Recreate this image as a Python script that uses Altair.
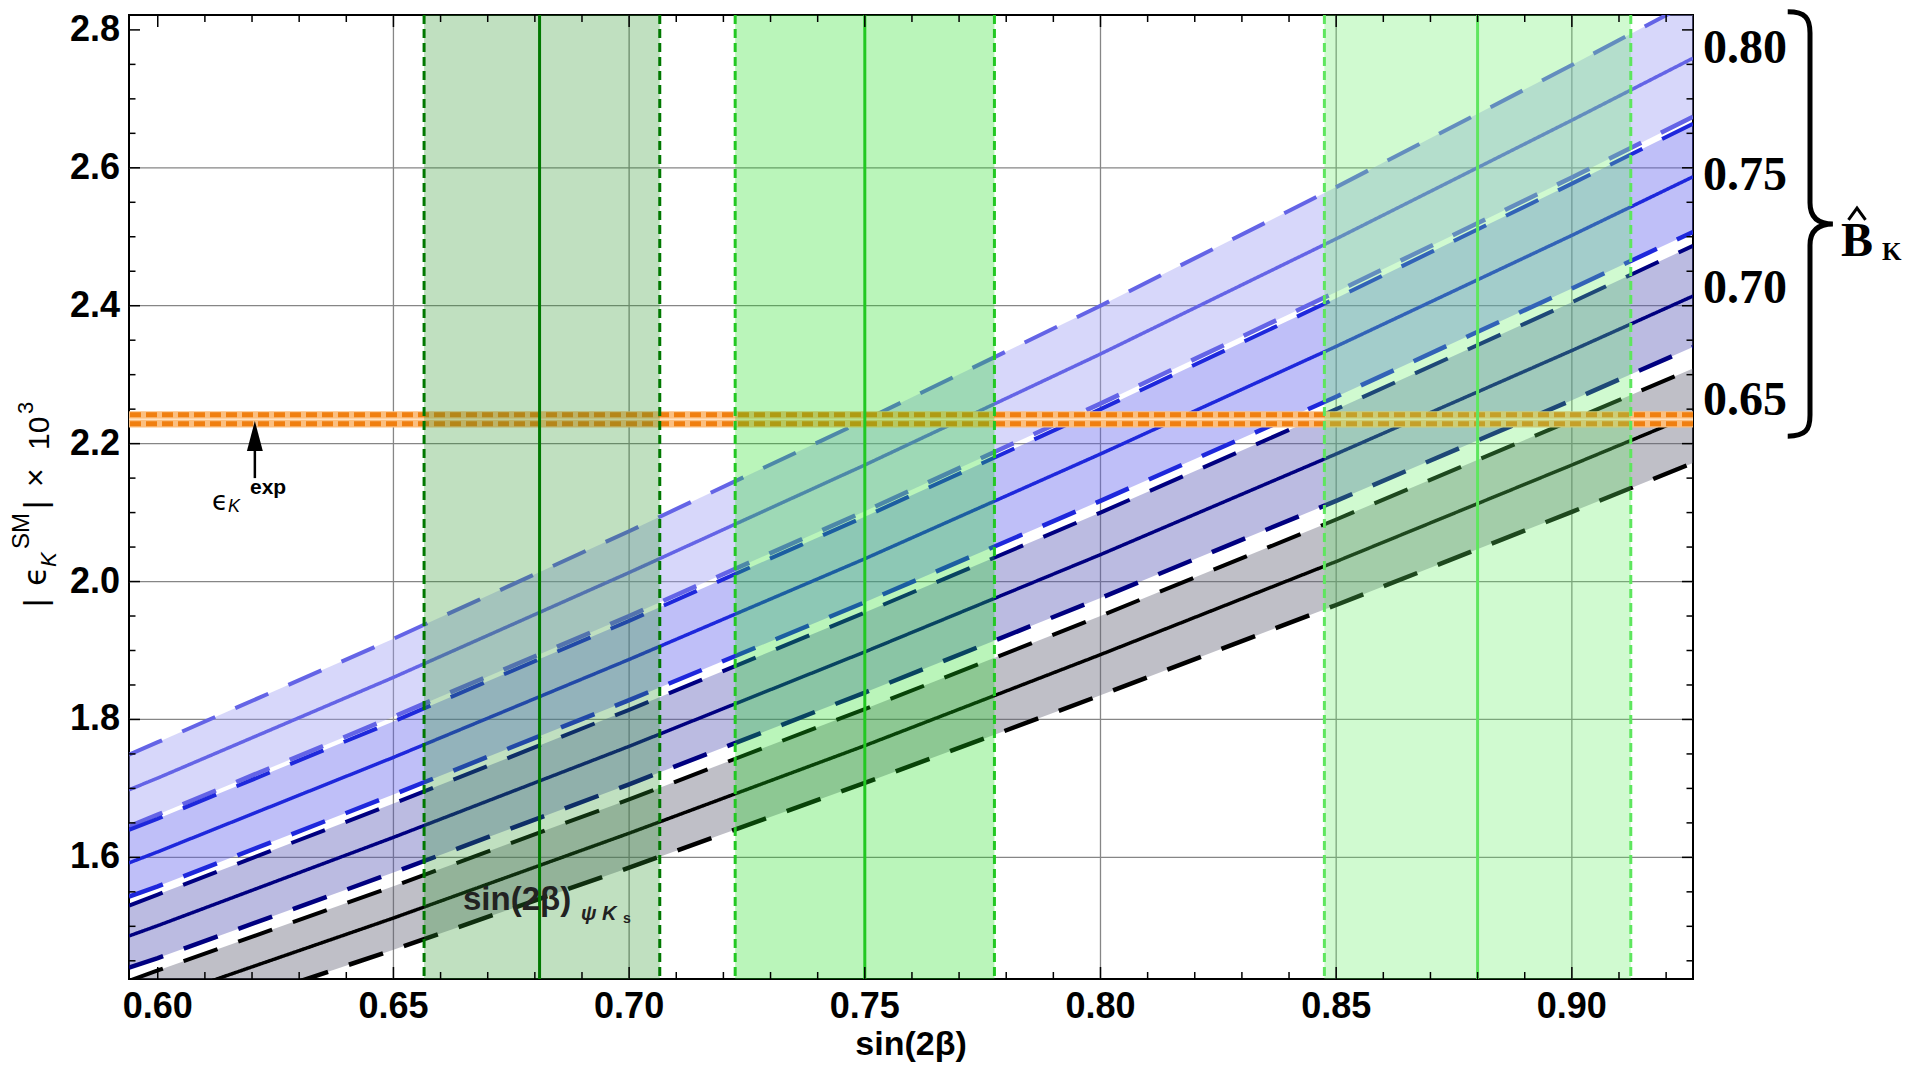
import altair as alt
import pandas as pd

# ---------------- data ----------------
# sample positions along sin(2beta)
X_PTS = [0.5939, 0.60, 0.65, 0.70, 0.75, 0.80, 0.85, 0.90, 0.9257]

BK_LABELS = ["0.80", "0.75", "0.70", "0.65"]

BK080_MID = [1.698, 1.715, 1.861, 2.013, 2.169, 2.330, 2.497, 2.669, 2.759]
BK080_HI = [1.749, 1.767, 1.917, 2.073, 2.234, 2.400, 2.572, 2.749, 2.842]
BK080_LO = [1.645, 1.662, 1.804, 1.950, 2.102, 2.258, 2.420, 2.586, 2.674]
BK075_MID = [1.592, 1.608, 1.745, 1.887, 2.033, 2.185, 2.341, 2.502, 2.587]
BK075_HI = [1.640, 1.656, 1.797, 1.943, 2.094, 2.250, 2.411, 2.577, 2.664]
BK075_LO = [1.543, 1.558, 1.691, 1.828, 1.970, 2.117, 2.268, 2.425, 2.507]
BK070_MID = [1.486, 1.501, 1.629, 1.761, 1.898, 2.039, 2.185, 2.335, 2.414]
BK070_HI = [1.530, 1.546, 1.678, 1.814, 1.955, 2.100, 2.250, 2.405, 2.487]
BK070_LO = [1.440, 1.454, 1.578, 1.706, 1.839, 1.976, 2.117, 2.263, 2.340]
BK065_MID = [1.380, 1.394, 1.512, 1.635, 1.762, 1.894, 2.029, 2.169, 2.242]
BK065_HI = [1.421, 1.436, 1.558, 1.684, 1.815, 1.950, 2.090, 2.234, 2.309]
BK065_LO = [1.337, 1.351, 1.466, 1.585, 1.708, 1.835, 1.966, 2.101, 2.172]

# vertical sin(2beta) bands
SIN2B_CENTER = [0.681, 0.750, 0.880]
SIN2B_LO = [0.6565, 0.7225, 0.8475]
SIN2B_HI = [0.7065, 0.7775, 0.9125]

# experimental epsilon_K band
EPS_EXP_CENTER = [2.2355]
EPS_EXP_EDGES = [2.2290, 2.2420]
EPS_EXP_BAND_LO = [2.2235]
EPS_EXP_BAND_HI = [2.2470]

# annotation arrow
ARROW_X = [0.6206]
ARROW_Y0 = [2.150]
ARROW_Y1 = [2.214]
ARROW_HEAD_Y = [2.2109]

# axes
X_MAJOR = [0.60, 0.65, 0.70, 0.75, 0.80, 0.85, 0.90]
X_MINOR = [0.61, 0.62, 0.63, 0.64, 0.66, 0.67, 0.68, 0.69, 0.71, 0.72, 0.73, 0.74,
           0.76, 0.77, 0.78, 0.79, 0.81, 0.82, 0.83, 0.84, 0.86, 0.87, 0.88, 0.89,
           0.91, 0.92]
Y_MAJOR = [1.6, 1.8, 2.0, 2.2, 2.4, 2.6, 2.8]
Y_MINOR = [1.45, 1.50, 1.55, 1.65, 1.70, 1.75, 1.85, 1.90, 1.95, 2.05, 2.10, 2.15,
           2.25, 2.30, 2.35, 2.45, 2.50, 2.55, 2.65, 2.70, 2.75]
X_GRID = [0.65, 0.70, 0.75, 0.80, 0.85, 0.90]
Y_GRID = [1.6, 1.8, 2.0, 2.2, 2.4, 2.6]

# ---------------- styling ----------------
W, H = 1564, 964
SANS = "Liberation Sans"
SERIF = "Liberation Serif"
LINE_COLORS = ["#6464e6", "#1e28dc", "#000080", "#000000"]
BAND_FILLS = ["#9a9af2", "#5e5eee", "#5454b4", "#5e5e72"]
GREEN_FILLS = ["#2d982d", "#1cde1c", "#62ee62"]
GREEN_LINES = ["#007800", "#22c822", "#5ee65e"]

xs = alt.Scale(domain=[0.5939, 0.9257], nice=False, zero=False)
ys = alt.Scale(domain=[1.4236, 2.8216], nice=False, zero=False)

series = {
    "0.80": (BK080_LO, BK080_MID, BK080_HI),
    "0.75": (BK075_LO, BK075_MID, BK075_HI),
    "0.70": (BK070_LO, BK070_MID, BK070_HI),
    "0.65": (BK065_LO, BK065_MID, BK065_HI),
}
line_rows, area_rows = [], []
for bk, (lo, mid, hi) in series.items():
    for kind, arr in (("lo", lo), ("mid", mid), ("hi", hi)):
        for xv, yv in zip(X_PTS, arr):
            line_rows.append({"x": xv, "y": yv, "bk": bk, "kind": kind, "id": bk + kind})
    for xv, l, h in zip(X_PTS, lo, hi):
        area_rows.append({"x": xv, "lo": l, "hi": h, "bk": bk})
line_df = pd.DataFrame(line_rows)
area_df = pd.DataFrame(area_rows)

# grid
xgrid = alt.Chart(pd.DataFrame({"v": X_GRID})).mark_rule(color="#868686", strokeWidth=1.3).encode(
    x=alt.X("v:Q", scale=xs, axis=None))
ygrid = alt.Chart(pd.DataFrame({"v": Y_GRID})).mark_rule(color="#868686", strokeWidth=1.3).encode(
    y=alt.Y("v:Q", scale=ys, axis=None))

# tick labels drawn through the scales
xlabels = alt.Chart(pd.DataFrame({"v": X_MAJOR})).mark_text(
    font=SANS, fontSize=36, fontWeight="bold", baseline="top", align="center", color="black").encode(
    x=alt.X("v:Q", scale=xs, axis=None), y=alt.value(H + 11), text=alt.Text("v:Q", format=".2f"))
ylabels = alt.Chart(pd.DataFrame({"v": Y_MAJOR})).mark_text(
    font=SANS, fontSize=36, fontWeight="bold", baseline="middle", align="right", color="black").encode(
    y=alt.Y("v:Q", scale=ys, axis=None), x=alt.value(-9), text=alt.Text("v:Q", format=".1f"))

areas = alt.Chart(area_df).mark_area(clip=True, opacity=0.4).encode(
    x=alt.X("x:Q", scale=xs, axis=None),
    y=alt.Y("lo:Q", scale=ys, axis=None),
    y2="hi:Q",
    fill=alt.Fill("bk:N", scale=alt.Scale(domain=BK_LABELS, range=BAND_FILLS), legend=None),
)

lines = alt.Chart(line_df).mark_line(clip=True).encode(
    x=alt.X("x:Q", scale=xs, axis=None),
    y=alt.Y("y:Q", scale=ys, axis=None),
    detail="id:N",
    color=alt.Color("bk:N", scale=alt.Scale(domain=BK_LABELS, range=LINE_COLORS), legend=None),
    strokeDash=alt.StrokeDash("kind:N", scale=alt.Scale(domain=["mid", "hi", "lo"],
                                                       range=[[1, 0], [36, 22], [36, 22]]), legend=None),
    strokeWidth=alt.StrokeWidth("kind:N", scale=alt.Scale(domain=["mid", "hi", "lo"],
                                                         range=[3.5, 4.5, 4.5]), legend=None),
)

# experimental band
orange_fill = alt.Chart(pd.DataFrame({"lo": EPS_EXP_BAND_LO, "hi": EPS_EXP_BAND_HI})).mark_rect(
    color="#fbbf80").encode(y=alt.Y("lo:Q", scale=ys, axis=None), y2="hi:Q",
                             x=alt.value(0), x2=alt.value(W))
orange_dash = alt.Chart(pd.DataFrame({"v": EPS_EXP_EDGES})).mark_rule(
    color="#f07f10", strokeWidth=5, strokeDash=[11, 5]).encode(y=alt.Y("v:Q", scale=ys, axis=None))
orange_mid = alt.Chart(pd.DataFrame({"v": EPS_EXP_CENTER})).mark_rule(
    color="#ffe2c0", strokeWidth=1.5).encode(y=alt.Y("v:Q", scale=ys, axis=None))

# sin(2beta) bands, one set of layers per band with literal colours
green_layers = []
for i in range(3):
    bdf = pd.DataFrame({"lo": [SIN2B_LO[i]], "hi": [SIN2B_HI[i]], "c": [SIN2B_CENTER[i]]})
    edf = pd.DataFrame({"v": [SIN2B_LO[i], SIN2B_HI[i]]})
    green_layers.append(alt.Chart(bdf).mark_rect(opacity=0.3, color=GREEN_FILLS[i]).encode(
        x=alt.X("lo:Q", scale=xs, axis=None), x2="hi:Q", y=alt.value(0), y2=alt.value(H)))
    green_layers.append(alt.Chart(edf).mark_rule(strokeWidth=3, strokeDash=[9, 5],
                                                 color=GREEN_LINES[i]).encode(
        x=alt.X("v:Q", scale=xs, axis=None)))
    green_layers.append(alt.Chart(bdf).mark_rule(strokeWidth=3, color=GREEN_LINES[i]).encode(
        x=alt.X("c:Q", scale=xs, axis=None)))


# inward ticks on all four sides
def xticks(vals, length, top):
    y0, y1 = (0, length) if top else (H, H - length)
    return alt.Chart(pd.DataFrame({"v": vals})).mark_rule(color="black", strokeWidth=1.5).encode(
        x=alt.X("v:Q", scale=xs, axis=None), y=alt.value(y0), y2=alt.value(y1))


def yticks(vals, length, right):
    x0, x1 = (W, W - length) if right else (0, length)
    return alt.Chart(pd.DataFrame({"v": vals})).mark_rule(color="black", strokeWidth=1.5).encode(
        y=alt.Y("v:Q", scale=ys, axis=None), x=alt.value(x0), x2=alt.value(x1))


ticks = [xticks(X_MAJOR, 12, False), xticks(X_MINOR, 7, False),
         xticks(X_MAJOR, 12, True), xticks(X_MINOR, 7, True),
         yticks(Y_MAJOR, 11, False), yticks(Y_MINOR, 6.5, False),
         yticks(Y_MAJOR, 11, True), yticks(Y_MINOR, 6.5, True)]

# arrow for epsilon_K exp
arrow_df = pd.DataFrame({"x": ARROW_X, "y0": ARROW_Y0, "y1": ARROW_Y1, "yh": ARROW_HEAD_Y})
arrow = alt.Chart(arrow_df).mark_rule(color="black", strokeWidth=2.5).encode(
    x=alt.X("x:Q", scale=xs, axis=None), y=alt.Y("y0:Q", scale=ys, axis=None), y2="y1:Q")
arrow_head = alt.Chart(arrow_df).mark_point(
    shape="M 0 -1 L 0.53 1 L -0.53 1 Z", size=900, filled=True, color="black", opacity=1).encode(
    x=alt.X("x:Q", scale=xs, axis=None), y=alt.Y("yh:Q", scale=ys, axis=None))

one = pd.DataFrame({"a": [0]})


def txt(s, x, y, size, font=SANS, weight="normal", style="normal", align="left",
        baseline="alphabetic", angle=0, color="black"):
    return alt.Chart(one).mark_text(
        text=s, font=font, fontSize=size, fontWeight=weight, fontStyle=style, align=align,
        baseline=baseline, angle=angle, color=color).encode(x=alt.value(x), y=alt.value(y))


annots = [
    txt("\u03f5", 83, 495, 26, font="DejaVu Sans"),
    txt("K", 99, 497, 18, style="italic"),
    txt("exp", 121, 479, 21, weight="bold"),
    txt("sin(2\u03b2)", 334, 895, 33, weight="bold", color="#222222"),
    txt("\u03c8 K", 452, 905, 20, style="italic", weight="bold", color="#222222"),
    txt("s", 494, 908, 14, weight="bold", color="#222222"),
    # x axis title
    txt("sin(2\u03b2)", 782, 1040, 34, weight="bold", align="center"),
    # y axis title pieces (rotated)
    txt("|", -83, 592, 32, angle=270),
    txt("\u03f5", -83, 571, 32, angle=270, font="DejaVu Sans"),
    txt("K", -73, 552, 22, angle=270, style="italic"),
    txt("SM", -100, 534, 24, angle=270),
    txt("|", -83, 494, 32, angle=270),
    txt("\u00d7", -83, 472, 32, angle=270),
    txt("10", -80, 435, 30, angle=270),
    txt("3", -96, 399, 22, angle=270),
    # right-hand B_K labels
    txt("0.80", 1574, 34, 48, font=SERIF, weight="bold", baseline="middle"),
    txt("0.75", 1574, 161, 48, font=SERIF, weight="bold", baseline="middle"),
    txt("0.70", 1574, 274, 48, font=SERIF, weight="bold", baseline="middle"),
    txt("0.65", 1574, 386, 48, font=SERIF, weight="bold", baseline="middle"),
    txt("B", 1712, 241, 48, font=SERIF, weight="bold"),
    txt("K", 1753, 245, 25, font=SERIF, weight="bold"),
]

brace = alt.Chart(one).mark_point(
    shape="M -0.105 -1 C -0.02 -1 0 -0.97 0 -0.9 L 0 -0.1 C 0 -0.03 0.04 0 0.108 0 "
          "C 0.04 0 0 0.03 0 0.1 L 0 0.9 C 0 0.97 -0.02 1 -0.105 1",
    size=180000, filled=False, stroke="black", strokeWidth=5, opacity=1).encode(
    x=alt.value(1681), y=alt.value(209))
hat = alt.Chart(one).mark_point(
    shape="M -1 0.7 L 0 -0.7 L 1 0.7", size=290, filled=False, stroke="black",
    strokeWidth=3, opacity=1).encode(x=alt.value(1728), y=alt.value(199))

chart = alt.layer(
    xgrid, ygrid, areas, lines, orange_fill, orange_dash, orange_mid,
    *green_layers, *ticks, arrow, arrow_head, xlabels, ylabels, *annots, brace, hat
).properties(
    width=W, height=H,
    background="white",
    autosize=alt.AutoSizeParams(type="none"),
    padding={"left": 121, "top": 7, "right": 209, "bottom": 87},
).configure_view(stroke="black", strokeWidth=2)

chart.save("out.html", embed_options={"renderer": "svg", "actions": False})
